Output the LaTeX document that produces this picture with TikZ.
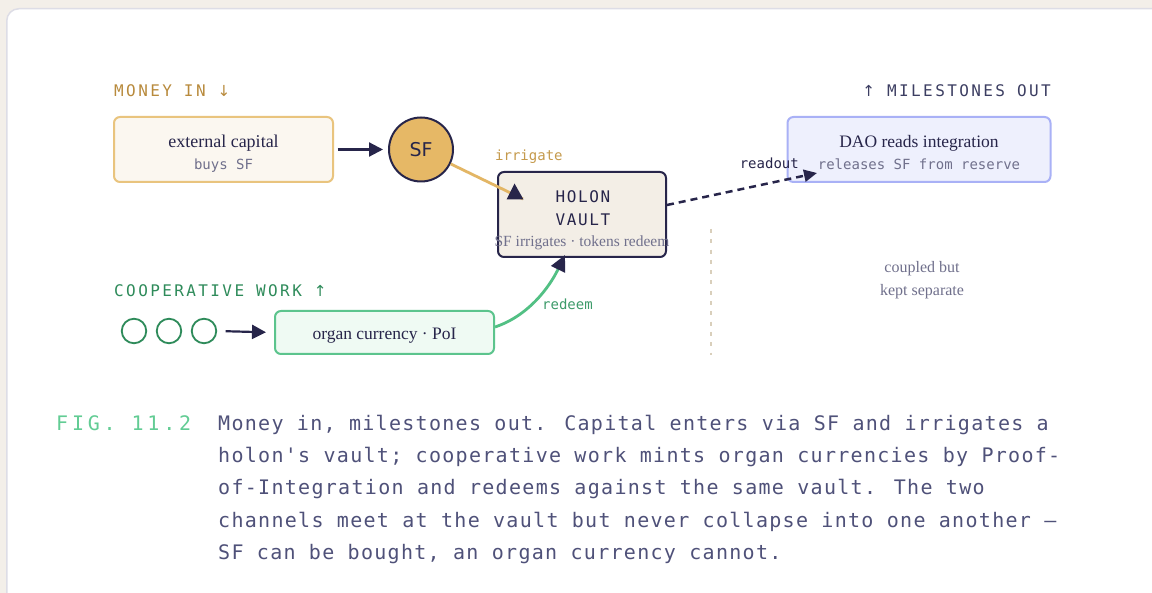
\documentclass[tikz,border=0pt]{standalone}
\usepackage{fontspec}
\setmainfont{Liberation Serif}
\newfontfamily\monof{DejaVu Sans Mono}[Ligatures=TeXOff]
\newfontfamily\monolab{DejaVu Sans Mono}[Ligatures=TeXOff,LetterSpace=15]
\newfontfamily\monovault{DejaVu Sans Mono}[Ligatures=TeXOff,LetterSpace=10]
\newfontfamily\monofig{DejaVu Sans Mono}[Ligatures=TeXOff,LetterSpace=19]
\newfontfamily\monocap{DejaVu Sans Mono}[Ligatures=TeXOff,LetterSpace=6.5]
\newfontfamily\sansf{DejaVu Sans}
\newfontfamily\arrowf{DejaVu Sans}[Scale=0.95]
\usetikzlibrary{arrows.meta}
\definecolor{pagebg}{HTML}{F3EFE9}
\definecolor{cardline}{HTML}{DDDDE6}
\definecolor{ink}{HTML}{27254A}
\definecolor{goldline}{HTML}{E3B665}
\definecolor{sfgold}{HTML}{E6B866}
\definecolor{goldb}{HTML}{E9C47E}
\definecolor{goldfill}{HTML}{FBF7F0}
\definecolor{goldtext}{HTML}{B88A3C}
\definecolor{irrtext}{HTML}{C59A4C}
\definecolor{greenb}{HTML}{5CC48D}
\definecolor{greenfill}{HTML}{EFFAF3}
\definecolor{greenline}{HTML}{52C084}
\definecolor{coopgreen}{HTML}{2E8B5A}
\definecolor{redeemtext}{HTML}{3D9B6A}
\definecolor{figgreen}{HTML}{62CC94}
\definecolor{daob}{HTML}{A9B1F6}
\definecolor{daofill}{HTML}{EEF0FD}
\definecolor{vaultfill}{HTML}{F3EEE6}
\definecolor{graytext}{HTML}{70708C}
\definecolor{captext}{HTML}{4F5179}
\definecolor{miletext}{HTML}{3C3E62}
\definecolor{sepline}{HTML}{D9CFBB}
\begin{document}
\begin{tikzpicture}[x=1pt,y=-1pt,
  box/.style={draw, line width=2pt, rounded corners=6pt, inner sep=0pt},
  txt/.style={inner sep=0pt, anchor=base},
  serifbig/.style={font=\fontsize{18}{18}\selectfont, text=ink},
  monosmall/.style={font=\monof\fontsize{14}{14}\selectfont},
  seclabel/.style={inner sep=0pt, font=\monolab\fontsize{16}{16}\selectfont},
  caption/.style={inner sep=0pt, anchor=base west, text=captext, font=\monocap\fontsize{20}{20}\selectfont},
  arrline/.style={draw=ink, line width=2.2pt, -{Triangle[length=14pt,width=14pt]}},
  dot/.style={circle, draw=coopgreen, line width=1.8pt, minimum size=24.5pt, inner sep=0pt}
]
\useasboundingbox (0,0) rectangle (1152,593);
\fill[pagebg] (0,0) rectangle (1152,593);
\begin{scope}
  \clip (0,0) rectangle (1152,593);
  \draw[cardline, line width=1.5pt, fill=white, rounded corners=12pt] (6.75,8.75) rectangle (1200,650);
\end{scope}

% section labels
\node[seclabel, anchor=base west, text=goldtext] (moneyin) at (114,97) {MONEY IN {\arrowf ↓}};
\node[seclabel, anchor=base east, text=miletext] (mileout) at (1051,97) {{\arrowf ↑} MILESTONES OUT};
\node[seclabel, anchor=base west, text=coopgreen] (coopwork) at (114,296.5) {COOPERATIVE WORK {\arrowf ↑}};

% external capital
\node[box, draw=goldb, fill=goldfill, minimum width=219pt, minimum height=65pt] (ext) at (223.5,149.5) {};
\node[txt, serifbig] (extT) at (223.5,148) {external capital};
\node[txt, monosmall, text=graytext] (extS) at (223.5,170) {buys SF};

% SF circle
\node[circle, draw=ink, line width=2pt, fill=sfgold, minimum size=64pt, inner sep=0pt,
      font=\sansf\fontsize{19}{19}\selectfont, text=ink] (sf) at (421,149.5) {SF};

% vault
\node[box, draw=ink, fill=vaultfill, minimum width=168pt, minimum height=85pt] (vault) at (582,214.5) {};
\node[txt, font=\monovault\fontsize{16}{16}\selectfont, text=ink] (holon) at (583,203) {HOLON};
\node[txt, font=\monovault\fontsize{16}{16}\selectfont, text=ink] (vaultT) at (583,226) {VAULT};
\node[txt, font=\fontsize{15.5}{15.5}\selectfont, text=graytext] (vaultS) at (582,247) {SF irrigates · tokens redeem};

% DAO box
\node[box, draw=daob, fill=daofill, minimum width=263pt, minimum height=65pt] (dao) at (919,149.5) {};
\node[txt, font=\fontsize{17.5}{17.5}\selectfont, text=ink] (daoT) at (919,148) {DAO reads integration};
\node[txt, monosmall, text=graytext] (daoS) at (919,170) {releases SF from reserve};

% organ currency
\node[dot] (c1) at (134,331) {};
\node[dot] (c2) at (169,331) {};
\node[dot] (c3) at (204,331) {};
\node[box, draw=greenb, fill=greenfill, minimum width=219pt, minimum height=43pt] (organ) at (384.5,332.5) {};
\node[txt, font=\fontsize{17.5}{17.5}\selectfont, text=ink] (organT) at (384.5,340) {organ currency · PoI};

% separator & note
\coordinate (sepTop) at (711,229);
\coordinate (sepBot) at (711,355);
\draw[sepline, line width=1.5pt, dash pattern=on 4pt off 6.3pt] (sepTop) -- (sepBot);
\node[txt, font=\fontsize{16}{16}\selectfont, text=graytext] (note1) at (922,273) {coupled but};
\node[txt, font=\fontsize{16}{16}\selectfont, text=graytext] (note2) at (922,296) {kept separate};

% connectors
\draw[arrline, shorten <=3.5pt, shorten >=5pt] (ext.east) -- (sf.west);
\draw[arrline, shorten <=8.5pt, shorten >=8pt] (c3.east) -- (organ.west);

\coordinate (irrEnd) at (523,199);
\draw[goldline, line width=2.8pt] (sf) -- (irrEnd);
\fill[ink] (506.5,199.5) -- (523.5,199.5) -- (514.5,183.5) -- cycle;
\node[txt, anchor=base west, monosmall, text=irrtext] (irrL) at (495,161) {irrigate};

\coordinate (roEnd) at (817,173);
\draw[ink, line width=2.5pt, dash pattern=on 7pt off 5pt, -{Triangle[length=13pt,width=12pt]}]
  ([yshift=9.5pt]vault.east) -- (roEnd);
\node[txt, anchor=base east, monosmall, text=ink] (roL) at (799,169) {readout};

\coordinate (rdEnd) at (565,255);
\draw[greenline, line width=2.8pt, -{Triangle[length=16pt,width=15pt,color=ink]}]
  ([yshift=5.5pt]organ.east) .. controls (528,316) and (549,288) .. (rdEnd);
\node[txt, anchor=base west, monosmall, text=redeemtext] (rdL) at (542,310) {redeem};

% caption
\node[inner sep=0pt, anchor=base west, text=figgreen, font=\monofig\fontsize{20}{20}\selectfont] (fig) at (56,431) {FIG. 11.2};
\node[caption] (cap1) at (218,431) {Money in, milestones out. Capital enters via SF and irrigates a};
\node[caption] (cap2) at (218,463) {holon's vault; cooperative work mints organ currencies by Proof-};
\node[caption] (cap3) at (218,495) {of-Integration and redeems against the same vault. The two};
\node[caption] (cap4) at (218,527) {channels meet at the vault but never collapse into one another —};
\node[caption] (cap5) at (218,559) {SF can be bought, an organ currency cannot.};
\end{tikzpicture}
\end{document}
